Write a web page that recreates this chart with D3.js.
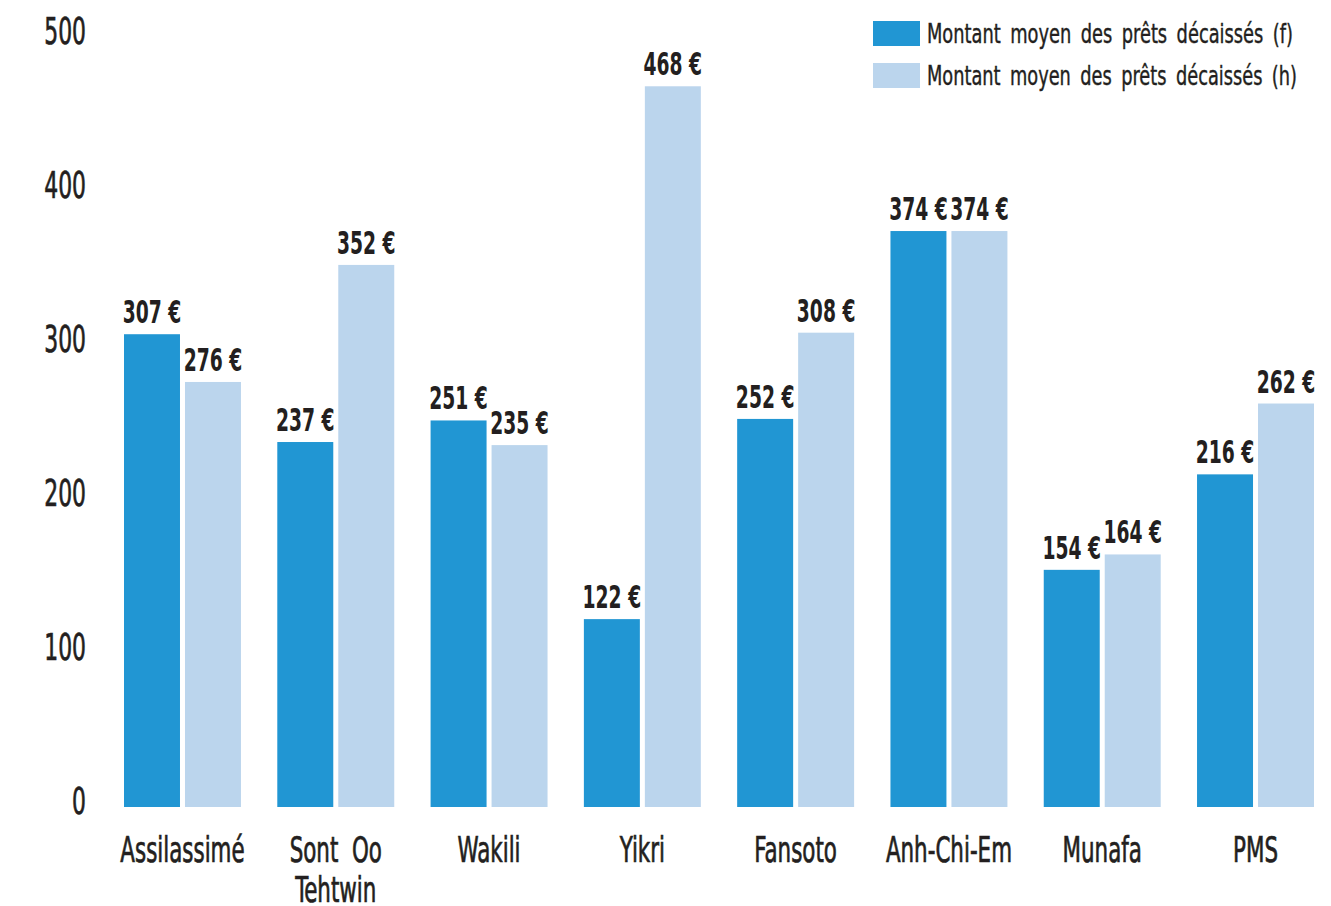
<!DOCTYPE html>
<html>
<head>
<meta charset="utf-8">
<script src="https://cdn.jsdelivr.net/npm/d3@7"></script>
<style>
  body { margin: 0; background: #fff; }
  svg text { font-family: "DejaVu Sans Condensed", "DejaVu Sans", sans-serif; fill: #231f20; }
</style>
</head>
<body>
<svg id="chart" width="1331" height="906"></svg>
<script>
// the data
var categories = ['Assilassimé', 'Sont  Oo|Tehtwin', 'Wakili', 'Yikri', 'Fansoto', 'Anh-Chi-Em', 'Munafa', 'PMS'];
var femmes = [307, 237, 251, 122, 252, 374, 154, 216];
var hommes = [276, 352, 235, 468, 308, 374, 164, 262];
var seriesNames = ['Montant moyen des prêts décaissés (f)', 'Montant moyen des prêts décaissés (h)'];
var yTicks = [0, 100, 200, 300, 400, 500];

var colors = ['#2196d3', '#bbd5ed'];

var svg = d3.select('#chart');

// the original font is very narrow, so squeeze text horizontally
function squeeze(sel, f) {
  sel.each(function() {
    var w = this.getComputedTextLength();
    d3.select(this).attr('textLength', w * f).attr('lengthAdjust', 'spacingAndGlyphs');
  });
}

var x = d3.scaleBand()
  .domain(categories)
  .range([124, 1314])
  .paddingInner(0.237)
  .paddingOuter(0);

var xSub = d3.scaleBand()
  .domain([0, 1])
  .range([0, x.bandwidth()])
  .paddingInner(0.082);

var y = d3.scaleLinear()
  .domain([0, 500])
  .range([807, 37]);

// y axis, labels only
var yAxis = svg.append('g')
  .attr('transform', 'translate(86,0)')
  .call(d3.axisLeft(y).tickValues(yTicks).tickSize(0).tickPadding(0));
yAxis.select('.domain').remove();
yAxis.selectAll('text')
  .attr('dy', null)
  .attr('y', 6)
  .style('font-size', '38px')
  .style('fill', '#231f20')
  .style('stroke', '#231f20')
  .style('stroke-width', '0.7px')
  .call(squeeze, 0.64);

// rows: one per category, each holding both values
var rows = categories.map(function(c, i) {
  return { cat: c, vals: [femmes[i], hommes[i]] };
});

var groups = svg.selectAll('g.grp')
  .data(rows)
  .enter()
  .append('g')
  .attr('class', 'grp')
  .attr('transform', function(d) { return 'translate(' + x(d.cat) + ',0)'; });

groups.selectAll('rect')
  .data(function(d) { return d.vals; })
  .enter()
  .append('rect')
  .attr('x', function(d, i) { return xSub(i); })
  .attr('y', function(d) { return y(d); })
  .attr('width', xSub.bandwidth())
  .attr('height', function(d) { return y(0) - y(d); })
  .attr('fill', function(d, i) { return colors[i]; });

groups.selectAll('text.val')
  .data(function(d) { return d.vals; })
  .enter()
  .append('text')
  .attr('class', 'val')
  .attr('x', function(d, i) { return xSub(i) + xSub.bandwidth() / 2; })
  .attr('y', function(d) { return y(d) - 11; })
  .attr('text-anchor', 'middle')
  .style('font-size', '32px')
  .style('font-weight', 'bold')
  .text(function(d) { return d + ' €'; })
  .call(squeeze, 0.65);

// category labels, split on |
groups.each(function(d) {
  var lines = d.cat.split('|');
  var g = d3.select(this);
  lines.forEach(function(l, k) {
    g.append('text')
      .attr('class', 'cat')
      .attr('x', x.bandwidth() / 2)
      .attr('y', 862 + k * 40)
      .attr('text-anchor', 'middle')
      .style('font-size', '35px')
      .style('white-space', 'pre')
      .style('stroke', '#231f20')
      .style('stroke-width', '0.7px')
      .text(l);
  });
});
svg.selectAll('text.cat').call(squeeze, 0.68);

// legend
var legend = svg.append('g').attr('transform', 'translate(873,21)');
seriesNames.forEach(function(name, i) {
  legend.append('rect')
    .attr('x', 0)
    .attr('y', i * 42)
    .attr('width', 47)
    .attr('height', 25)
    .attr('fill', colors[i]);
  legend.append('text')
    .attr('x', 54)
    .attr('y', i * 42 + 22)
    .attr('textLength', i == 0 ? 366 : 370)
    .attr('lengthAdjust', 'spacingAndGlyphs')
    .style('font-size', '26px')
    .style('word-spacing', '5px')
    .style('stroke', '#231f20')
    .style('stroke-width', '0.4px')
    .text(name);
});
</script>
</body>
</html>
